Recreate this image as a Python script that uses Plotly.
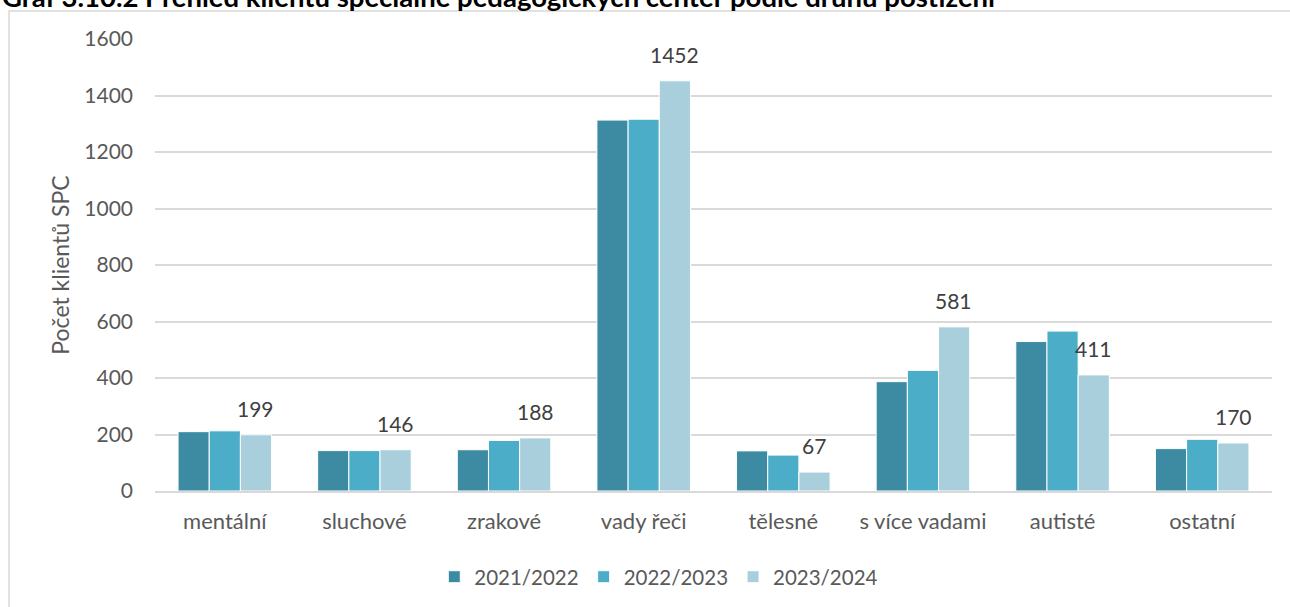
import plotly.graph_objects as go

# =====================
# data
# =====================
categories = ["mentální", "sluchové", "zrakové", "vady řeči", "tělesné",
              "s více vadami", "autisté", "ostatní"]
years = ["2021/2022", "2022/2023", "2023/2024"]
values_2122 = [210, 143, 146, 1313, 142, 387, 529, 150]
values_2223 = [213, 143, 179, 1316, 127, 427, 566, 183]
values_2324 = [199, 146, 188, 1452, 67, 581, 411, 170]
y_ticks = [0, 200, 400, 600, 800, 1000, 1200, 1400, 1600]

title_text = "Graf 3.10.2 Přehled klientů speciálně pedagogických center podle druhu postižení"

colors = ["#3C8BA2", "#4BADC7", "#A9CFDD"]
FONT = "Lato"
TEXT_GRAY = "#595959"

fig = go.Figure()

for name, vals, col in zip(years, [values_2122, values_2223, values_2324], colors):
    fig.add_bar(
        x=categories,
        y=vals,
        name=name,
        marker=dict(color=col, line=dict(color="white", width=1)),
    )

# data labels only for the latest school year (third bar in each group)
for cat, val in zip(categories, values_2324):
    fig.add_annotation(
        x=cat, y=val, xref="x", yref="y",
        text=str(val), showarrow=False,
        xanchor="center", yanchor="bottom",
        xshift=31, yshift=12,
        font=dict(family=FONT, size=21, color="#404040"),
    )

# title (cut at the top like in the source screenshot)
fig.add_annotation(
    x=-0.1388, y=1, xref="paper", yref="paper",
    text="<b>" + title_text + "</b>", showarrow=False,
    xanchor="left", yanchor="bottom", yshift=24,
    font=dict(family=FONT, size=27.5, color="black"),
)

# chart frame
fig.add_shape(
    type="rect", xref="paper", yref="paper",
    x0=-0.1307, x1=1.1, y0=-0.4, y1=1.062,
    line=dict(color="#D9D9D9", width=1.5), layer="below",
)

fig.update_layout(
    width=1290,
    height=607,
    paper_bgcolor="white",
    plot_bgcolor="white",
    margin=dict(l=155, r=18, t=39, b=116, autoexpand=False),
    barmode="group",
    bargap=0.33,
    bargroupgap=0,
    font=dict(family=FONT, size=21, color=TEXT_GRAY),
    legend=dict(
        orientation="h",
        x=0.451, xanchor="center",
        y=-0.19, yanchor="middle",
        font=dict(family=FONT, size=20.5, color=TEXT_GRAY),
        itemwidth=30,
        traceorder="normal",
    ),
    xaxis=dict(
        showgrid=False,
        showline=True, linecolor="#D9D9D9", linewidth=1.5,
        ticks="", ticklabelstandoff=10,
        tickfont=dict(family=FONT, size=22, color=TEXT_GRAY),
    ),
    yaxis=dict(
        range=[0, 1600],
        tickvals=y_ticks,
        showgrid=True, gridcolor="#D9D9D9", gridwidth=1.5,
        zeroline=False,
        ticks="", ticklabelstandoff=21,
        tickfont=dict(family=FONT, size=21, color=TEXT_GRAY),
        title=dict(text="Počet klientů SPC", standoff=8,
                   font=dict(family=FONT, size=23, color=TEXT_GRAY)),
    ),
    showlegend=True,
)

# page without the default body margin, so the figure fills the window
fig.write_html(
    "out.html",
    config={"displayModeBar": False},
    post_script="document.body.style.margin='0';document.body.style.overflow='hidden';",
)
